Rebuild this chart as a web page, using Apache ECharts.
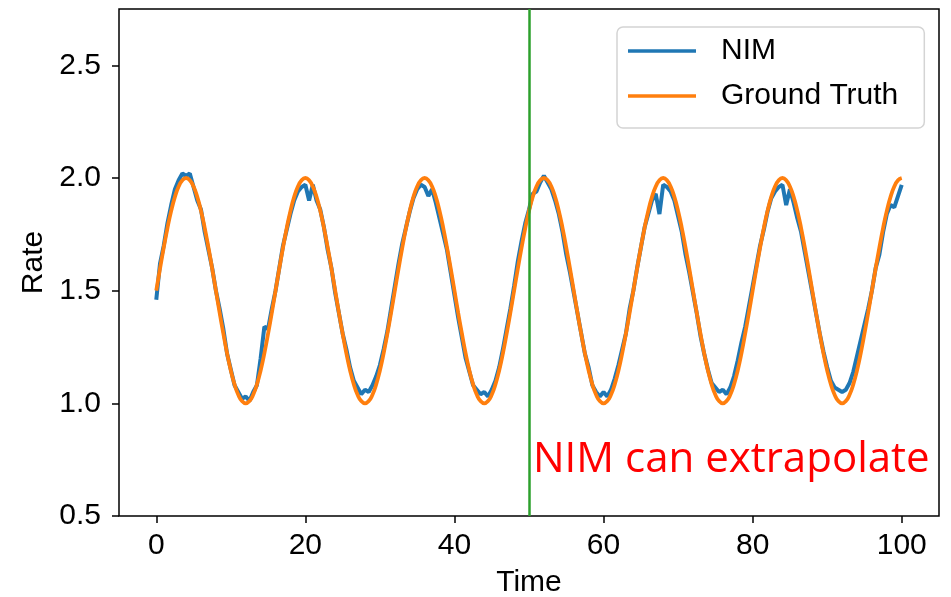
<!DOCTYPE html>
<html>
<head>
<meta charset="utf-8">
<script src="https://cdn.jsdelivr.net/npm/echarts@6/dist/echarts.min.js"></script>
<style>
  html, body { margin: 0; padding: 0; background: #fff; }
  #chart { width: 951px; height: 597px; }
</style>
</head>
<body>
<div id="chart"></div>
<script>
// sample step of both curves (time units)
var timeStep = 0.5;

var nimValues = [
  1.46, 1.62, 1.70, 1.80, 1.88, 1.95, 1.99, 2.02, 2.01, 2.02, 1.96, 1.90, 1.86, 1.76, 1.68, 1.60,
  1.50, 1.42, 1.33, 1.22, 1.15, 1.08, 1.05, 1.02, 1.03, 1.01, 1.05, 1.08, 1.20, 1.34, 1.33, 1.42,
  1.50, 1.60, 1.70, 1.77, 1.84, 1.90, 1.94, 1.96, 1.97, 1.90, 1.97, 1.90, 1.86, 1.78, 1.68, 1.60,
  1.49, 1.40, 1.31, 1.24, 1.16, 1.10, 1.07, 1.04, 1.06, 1.05, 1.08, 1.12, 1.17, 1.24, 1.32, 1.42,
  1.52, 1.62, 1.71, 1.78, 1.85, 1.91, 1.95, 1.97, 1.96, 1.92, 1.95, 1.89, 1.82, 1.75, 1.68, 1.58,
  1.48, 1.38, 1.29, 1.20, 1.14, 1.08, 1.06, 1.04, 1.05, 1.03, 1.06, 1.10, 1.16, 1.24, 1.33, 1.42,
  1.52, 1.63, 1.72, 1.80, 1.86, 1.93, 1.94, 1.98, 2.01, 1.98, 1.95, 1.90, 1.84, 1.76, 1.66, 1.58,
  1.49, 1.40, 1.31, 1.22, 1.16, 1.08, 1.05, 1.03, 1.05, 1.03, 1.06, 1.11, 1.17, 1.24, 1.31, 1.42,
  1.50, 1.60, 1.69, 1.78, 1.84, 1.90, 1.93, 1.84, 1.97, 1.96, 1.94, 1.90, 1.83, 1.76, 1.66, 1.58,
  1.49, 1.40, 1.30, 1.22, 1.15, 1.09, 1.07, 1.05, 1.06, 1.04, 1.07, 1.12, 1.19, 1.27, 1.34, 1.43,
  1.52, 1.61, 1.70, 1.77, 1.85, 1.91, 1.94, 1.96, 1.97, 1.88, 1.95, 1.89, 1.82, 1.76, 1.67, 1.58,
  1.49, 1.40, 1.31, 1.23, 1.16, 1.10, 1.07, 1.06, 1.05, 1.06, 1.09, 1.14, 1.21, 1.28, 1.35, 1.42,
  1.50, 1.60, 1.66, 1.76, 1.84, 1.88, 1.87, 1.92, 1.97
];

var truthValues = [
  1.5, 1.598, 1.691, 1.778, 1.854, 1.916, 1.962, 1.990, 2.0, 1.990, 1.962, 1.916, 1.854, 1.778, 1.691, 1.598,
  1.5, 1.402, 1.309, 1.222, 1.146, 1.084, 1.038, 1.010, 1.0, 1.010, 1.038, 1.084, 1.146, 1.222, 1.309, 1.402,
  1.5, 1.598, 1.691, 1.778, 1.854, 1.916, 1.962, 1.990, 2.0, 1.990, 1.962, 1.916, 1.854, 1.778, 1.691, 1.598,
  1.5, 1.402, 1.309, 1.222, 1.146, 1.084, 1.038, 1.010, 1.0, 1.010, 1.038, 1.084, 1.146, 1.222, 1.309, 1.402,
  1.5, 1.598, 1.691, 1.778, 1.854, 1.916, 1.962, 1.990, 2.0, 1.990, 1.962, 1.916, 1.854, 1.778, 1.691, 1.598,
  1.5, 1.402, 1.309, 1.222, 1.146, 1.084, 1.038, 1.010, 1.0, 1.010, 1.038, 1.084, 1.146, 1.222, 1.309, 1.402,
  1.5, 1.598, 1.691, 1.778, 1.854, 1.916, 1.962, 1.990, 2.0, 1.990, 1.962, 1.916, 1.854, 1.778, 1.691, 1.598,
  1.5, 1.402, 1.309, 1.222, 1.146, 1.084, 1.038, 1.010, 1.0, 1.010, 1.038, 1.084, 1.146, 1.222, 1.309, 1.402,
  1.5, 1.598, 1.691, 1.778, 1.854, 1.916, 1.962, 1.990, 2.0, 1.990, 1.962, 1.916, 1.854, 1.778, 1.691, 1.598,
  1.5, 1.402, 1.309, 1.222, 1.146, 1.084, 1.038, 1.010, 1.0, 1.010, 1.038, 1.084, 1.146, 1.222, 1.309, 1.402,
  1.5, 1.598, 1.691, 1.778, 1.854, 1.916, 1.962, 1.990, 2.0, 1.990, 1.962, 1.916, 1.854, 1.778, 1.691, 1.598,
  1.5, 1.402, 1.309, 1.222, 1.146, 1.084, 1.038, 1.010, 1.0, 1.010, 1.038, 1.084, 1.146, 1.222, 1.309, 1.402,
  1.5, 1.598, 1.691, 1.778, 1.854, 1.916, 1.962, 1.990, 2.0
];

var xTicks = [0, 20, 40, 60, 80, 100];
var yTicks = [0.5, 1.0, 1.5, 2.0, 2.5];
var splitTime = 50;

function toPairs(values) {
  return values.map(function (v, i) { return [i * timeStep, v]; });
}

var font = 'Liberation Sans, Arial, sans-serif';
var chart = echarts.init(document.getElementById('chart'));

chart.setOption({
  animation: false,
  grid: {
    left: 119, right: 12, top: 9, bottom: 81,
    outerBoundsMode: 'none', containLabel: false,
    show: true, borderColor: '#000', borderWidth: 1.5
  },
  legend: {
    orient: 'vertical',
    left: 617, top: 27,
    padding: [9, 26, 17, 11],
    itemGap: 15,
    itemWidth: 68, itemHeight: 3.5,
    icon: 'rect',
    backgroundColor: 'rgba(255,255,255,0.8)',
    borderColor: '#d4d4d4', borderWidth: 1.5, borderRadius: 6,
    textStyle: { fontFamily: font, fontSize: 30, color: '#000', lineHeight: 30, padding: [0, 0, 0, 20] },
    data: ['NIM', 'Ground Truth']
  },
  xAxis: {
    type: 'value', min: -5, max: 105,
    name: 'Time', nameLocation: 'middle', nameGap: 52,
    nameTextStyle: { fontFamily: font, fontSize: 30, color: '#000' },
    axisLine: { show: false, onZero: false },
    axisTick: { show: true, length: 7, lineStyle: { color: '#000', width: 1.5 }, customValues: xTicks },
    axisLabel: { fontFamily: font, fontSize: 30, color: '#000', margin: 15, customValues: xTicks },
    splitLine: { show: false }
  },
  yAxis: {
    type: 'value', min: 0.5, max: 2.75,
    name: 'Rate', nameLocation: 'middle', nameGap: 67,
    nameTextStyle: { fontFamily: font, fontSize: 30, color: '#000' },
    axisLine: { show: false, onZero: false },
    axisTick: { show: true, length: 7, lineStyle: { color: '#000', width: 1.5 }, customValues: yTicks },
    axisLabel: {
      fontFamily: font, fontSize: 30, color: '#000', margin: 18, customValues: yTicks,
      formatter: function (v) { return v.toFixed(1); }
    },
    splitLine: { show: false }
  },
  series: [
    {
      name: 'NIM', type: 'line', data: toPairs(nimValues),
      showSymbol: false, lineStyle: { color: '#1f77b4', width: 4 },
      itemStyle: { color: '#1f77b4' }, z: 2,
      markLine: {
        silent: true, symbol: 'none', label: { show: false },
        lineStyle: { color: '#2ca02c', width: 2.5, type: 'solid' },
        data: [{ xAxis: splitTime }]
      }
    },
    {
      name: 'Ground Truth', type: 'line', data: toPairs(truthValues),
      smooth: true, showSymbol: false, lineStyle: { color: '#ff7f0e', width: 3.8 },
      itemStyle: { color: '#ff7f0e' }, z: 3
    }
  ],
  graphic: [{
    type: 'text', left: 533, top: 439, z: 10,
    style: { text: 'NIM can extrapolate', fill: '#ff0000', font: '42px "Open Sans", sans-serif' }
  }]
});
</script>
</body>
</html>
